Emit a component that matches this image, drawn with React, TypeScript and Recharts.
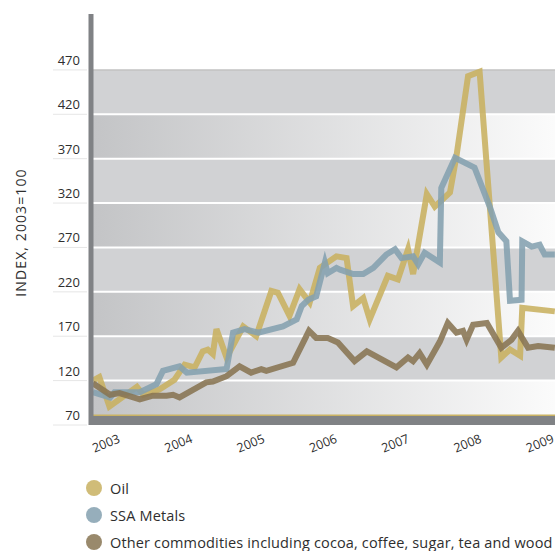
import React from "react";
import { LineChart, Line, XAxis, YAxis, ReferenceArea, ReferenceLine } from "recharts";

// year labels on the x axis, value ticks on the y axis
const years = [2003, 2004, 2005, 2006, 2007, 2008, 2009];
const yTicks = [70, 120, 170, 220, 270, 320, 370, 420, 470];

// Oil, index 2003=100 (time as decimal year)
const oilT = [2003.0, 2003.09, 2003.23, 2003.61, 2003.7, 2003.92, 2004.13, 2004.27, 2004.41, 2004.52, 2004.59, 2004.66, 2004.71, 2004.85, 2005.08, 2005.26, 2005.47, 2005.56, 2005.72, 2005.86, 2006.0, 2006.14, 2006.37, 2006.51, 2006.6, 2006.74, 2006.83, 2007.08, 2007.22, 2007.36, 2007.43, 2007.62, 2007.73, 2007.94, 2008.03, 2008.19, 2008.35, 2008.65, 2008.77, 2008.91, 2008.94, 2009.39];
const oilV = [120, 124, 91, 113, 104, 110, 121, 138, 135, 153, 155, 150, 178, 146, 181, 170, 221, 219, 193, 223, 208, 247, 260, 258, 204, 213, 189, 238, 234, 268, 240, 330, 316, 332, 373, 463, 468, 146, 155, 148, 202, 198];

// SSA metals
const metalsT = [2003.0, 2003.24, 2003.3, 2003.65, 2003.88, 2003.97, 2004.2, 2004.3, 2004.85, 2004.94, 2005.1, 2005.29, 2005.63, 2005.82, 2005.89, 2005.98, 2006.09, 2006.21, 2006.25, 2006.37, 2006.42, 2006.6, 2006.74, 2006.88, 2007.06, 2007.18, 2007.27, 2007.43, 2007.5, 2007.59, 2007.8, 2007.82, 2008.01, 2008.28, 2008.49, 2008.61, 2008.72, 2008.77, 2008.93, 2008.94, 2009.07, 2009.18, 2009.25, 2009.39];
const metalsV = [107, 101, 107, 107, 116, 131, 136, 129, 133, 174, 178, 174, 181, 189, 204, 211, 215, 253, 241, 247, 245, 240, 240, 247, 262, 268, 258, 260, 251, 264, 253, 337, 371, 360, 316, 287, 277, 210, 211, 277, 271, 273, 262, 262];

// other commodities
const otherT = [2003.0, 2003.24, 2003.37, 2003.65, 2003.83, 2004.02, 2004.11, 2004.2, 2004.57, 2004.66, 2004.85, 2005.03, 2005.19, 2005.33, 2005.4, 2005.77, 2005.99, 2006.09, 2006.25, 2006.39, 2006.62, 2006.79, 2007.2, 2007.36, 2007.43, 2007.52, 2007.62, 2007.8, 2007.91, 2008.03, 2008.12, 2008.17, 2008.26, 2008.45, 2008.65, 2008.79, 2008.88, 2009.02, 2009.16, 2009.39];
const otherV = [117, 104, 106, 99, 103, 103, 104, 101, 118, 119, 125, 136, 129, 133, 131, 140, 176, 168, 168, 163, 142, 153, 135, 146, 142, 151, 138, 164, 185, 174, 176, 166, 183, 185, 157, 166, 176, 157, 159, 157];

const zip = (t: number[], v: number[]) => t.map((x, i) => ({ t: x, v: v[i] }));

const series = [
  { name: "Oil", color: "#c8b060", data: zip(oilT, oilV) },
  { name: "SSA Metals", color: "#84a0af", data: zip(metalsT, metalsV) },
  { name: "Other commodities including cocoa, coffee, sugar, tea and wood", color: "#877452", data: zip(otherT, otherV) },
];

const FONT = "'Open Sans', sans-serif";

function YTick({ x, y, payload }: any) {
  return (
    <g>
      <line x1={x - 38} x2={x - 4} y1={y} y2={y} stroke="#e6e6e6" />
      <text x={x - 11} y={y - 5} textAnchor="end" fontSize={13} fill="#2e2e2e" fontFamily={FONT}>
        {payload.value}
      </text>
    </g>
  );
}

function XTick({ x, y, payload }: any) {
  const ty = y + 17;
  return (
    <text x={x} y={ty} textAnchor="end" fontSize={12.5} fill="#2e2e2e" fontFamily={FONT} transform={`rotate(-22 ${x} ${ty})`}>
      {Math.floor(payload.value)}
    </text>
  );
}

function AxisTitle({ viewBox }: any) {
  const cx = viewBox.x + 19;
  const cy = viewBox.y + viewBox.height / 2 + 13;
  return (
    <text x={cx} y={cy} transform={`rotate(-90 ${cx} ${cy})`} textAnchor="middle" dominantBaseline="central" fontSize={14} letterSpacing={1.1} fill="#2e2e2e" fontFamily={FONT}>
      INDEX, 2003=100
    </text>
  );
}

export default function App() {
  const bands = yTicks.slice(0, -1).map((lo, i) => ({ lo, hi: yTicks[i + 1], fill: i % 2 === 0 ? "url(#bandFade)" : "#d1d2d4" }));
  return (
    <div style={{ position: "absolute", left: 0, top: 0, width: 555, height: 551, overflow: "hidden", background: "#fff", fontFamily: FONT }}>
      <LineChart width={571} height={551} margin={{ top: 14, right: 0, bottom: 96, left: 1 }}>
        <defs>
          <linearGradient id="bandFade" x1="0" y1="0" x2="1" y2="0">
            <stop offset="0%" stopColor="#c3c4c6" />
            <stop offset="100%" stopColor="#fdfdfd" />
          </linearGradient>
        </defs>
        <XAxis type="number" dataKey="t" domain={[2002.975, 2009.614]} allowDataOverflow ticks={years.map((y) => y + 0.39)} tick={<XTick />} tickLine={false} axisLine={false} tickSize={0} tickMargin={0} height={30} interval={0} />
        <YAxis type="number" domain={[70, 533]} allowDataOverflow ticks={yTicks} tick={<YTick />} tickLine={false} tickSize={0} tickMargin={0} width={90} axisLine={{ stroke: "#808285", strokeWidth: 5 }} interval={0} label={<AxisTitle />} />
        {bands.map((b) => (
          <ReferenceArea key={b.lo} y1={b.lo} y2={b.hi} fill={b.fill} fillOpacity={1} stroke="none" />
        ))}
        <ReferenceArea y1={70} y2={80} fill="#808285" fillOpacity={1} stroke="none" />
        {yTicks.slice(1, -1).map((v) => (
          <ReferenceLine key={v} y={v} stroke="#ffffff" strokeWidth={2} />
        ))}
        <ReferenceLine y={470} stroke="#c2c2c2" strokeWidth={1.5} />
        <ReferenceLine y={81} stroke="#c9b263" strokeWidth={1.5} />
        {series.map((s) => (
          <Line key={s.name} data={s.data} dataKey="v" name={s.name} type="linear" stroke={s.color} strokeWidth={6} strokeOpacity={0.88} dot={false} activeDot={false} isAnimationActive={false} />
        ))}
      </LineChart>
      <div style={{ position: "absolute", left: 86, top: 480 }}>
        {series.map((s) => (
          <div key={s.name} style={{ display: "flex", alignItems: "center", height: 16, marginBottom: 11 }}>
            <span style={{ width: 16, height: 16, borderRadius: 8, background: s.color, opacity: 0.85, display: "inline-block" }} />
            <span style={{ marginLeft: 8, fontSize: 14.5, letterSpacing: 0.15, color: "#2e2e2e", whiteSpace: "nowrap" }}>{s.name}</span>
          </div>
        ))}
      </div>
    </div>
  );
}
